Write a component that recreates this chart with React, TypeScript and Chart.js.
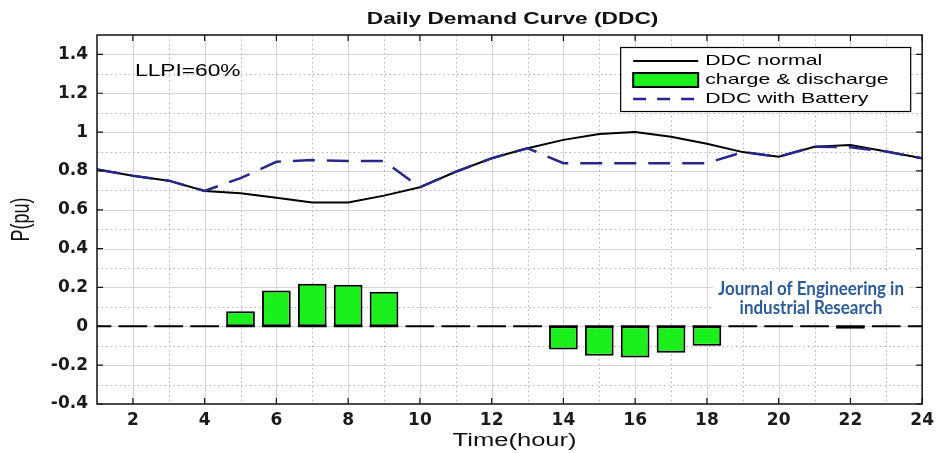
import React, { useEffect, useRef } from 'react';
import { Chart, registerables } from 'chart.js';

Chart.register(...registerables);

// ---- data ----
const hours = [1, 2, 3, 4, 5, 6, 7, 8, 9, 10, 11, 12, 13, 14, 15, 16, 17, 18, 19, 20, 21, 22, 23, 24];
const ddcNormal = [0.808, 0.775, 0.75, 0.697, 0.685, 0.662, 0.637, 0.637, 0.673, 0.716, 0.796, 0.865, 0.917, 0.96, 0.99, 1.0, 0.976, 0.94, 0.897, 0.873, 0.925, 0.934, 0.9, 0.865];
const chargeDischarge = [0, 0, 0, 0, 0.078, 0.185, 0.219, 0.214, 0.178, 0, 0, 0, 0, -0.12, -0.151, -0.16, -0.136, -0.1, 0, 0, 0, -0.012, 0, 0];
const ddcBattery = [0.808, 0.775, 0.75, 0.697, 0.763, 0.847, 0.856, 0.851, 0.851, 0.716, 0.796, 0.865, 0.917, 0.84, 0.839, 0.84, 0.84, 0.84, 0.897, 0.873, 0.925, 0.922, 0.9, 0.865];
const xTickValues = [2, 4, 6, 8, 10, 12, 14, 16, 18, 20, 22, 24];
const yTickValues = [-0.4, -0.2, 0, 0.2, 0.4, 0.6, 0.8, 1, 1.2, 1.4];
const yTickLabels = ['-0.4', '-0.2', '0', '0.2', '0.4', '0.6', '0.8', '1', '1.2', '1.4'];
const seriesLabels = ['DDC normal', 'charge & discharge', 'DDC with Battery'];
const titleText = 'Daily Demand Curve (DDC)';
const xTitle = 'Time(hour)';
const yTitle = 'P(pu)';
const noteText = 'LLPI=60%';
const watermark = ['Journal of Engineering in', 'industrial Research'];

const GREEN = '#1cf01c';
const NAVY = '#27278a';
const SX = 1.42; // horizontal stretch of the reference's text

function stretchedText(ctx: CanvasRenderingContext2D, text: string, x: number, y: number, font: string, align: CanvasTextAlign, color: string, sx = SX, rotate = 0) {
  ctx.save();
  ctx.font = font;
  ctx.fillStyle = color;
  ctx.textAlign = align;
  ctx.textBaseline = 'middle';
  ctx.translate(x, y);
  ctx.scale(sx, 1);
  if (rotate) ctx.rotate(rotate);
  ctx.fillText(text, 0, 0);
  ctx.restore();
}

const decorPlugin = {
  id: 'decor',
  beforeDatasetsDraw(chart: any) {
    const { ctx, chartArea: a, scales } = chart;
    const xs = scales.x, ys = scales.y;
    ctx.save();
    // vertical grid
    for (let h = Math.ceil(xs.min); h <= xs.max; h++) {
      const px = Math.round(xs.getPixelForValue(h)) + 0.5;
      if (px <= a.left + 1 || px >= a.right - 1) continue;
      ctx.beginPath();
      if (h % 2 === 0) { ctx.setLineDash([]); ctx.strokeStyle = '#d4d4d4'; }
      else { ctx.setLineDash([1.5, 3]); ctx.strokeStyle = '#b4b4b4'; }
      ctx.lineWidth = 1;
      ctx.moveTo(px, a.top); ctx.lineTo(px, a.bottom); ctx.stroke();
    }
    // horizontal grid
    for (let k = Math.round(ys.min * 10); k <= Math.round(ys.max * 10); k++) {
      const py = Math.round(ys.getPixelForValue(k / 10)) + 0.5;
      if (py <= a.top + 1 || py >= a.bottom - 1) continue;
      ctx.beginPath();
      if (k % 2 === 0) { ctx.setLineDash([]); ctx.strokeStyle = '#d4d4d4'; }
      else { ctx.setLineDash([1.5, 3]); ctx.strokeStyle = '#b4b4b4'; }
      ctx.lineWidth = 1;
      ctx.moveTo(a.left, py); ctx.lineTo(a.right, py); ctx.stroke();
    }
    ctx.setLineDash([]);
    // watermark box and text
    const wx = xs.getPixelForValue(20.9);
    const wy = ys.getPixelForValue(0.14);
    ctx.fillStyle = '#ffffff';
    ctx.fillRect(wx - 98, wy - 27, 196, 50);
    ctx.font = 'bold 19px Lato';
    const w0 = ctx.measureText(watermark[0]).width;
    const s = 186 / w0;
    stretchedText(ctx, watermark[0], wx, wy - 10, 'bold 19px Lato', 'center', '#2c5b95', s);
    stretchedText(ctx, watermark[1], wx, wy + 9, 'bold 19px Lato', 'center', '#2c5b95', s);
    ctx.restore();
  },
  afterDatasetsDraw(chart: any) {
    const { ctx, chartArea: a, scales } = chart;
    const xs = scales.x, ys = scales.y;
    ctx.save();
    // zero baseline segments of the bar series
    const meta = chart.getDatasetMeta(1);
    ctx.strokeStyle = '#000';
    ctx.lineWidth = 2;
    ctx.beginPath();
    meta.data.forEach((el: any) => {
      const l = Math.max(a.left, el.x - el.width / 2);
      const r = Math.min(a.right, el.x + el.width / 2);
      ctx.moveTo(l, el.base); ctx.lineTo(r, el.base);
    });
    ctx.stroke();

    // axis box
    ctx.lineWidth = 1.5;
    ctx.strokeStyle = '#111';
    ctx.strokeRect(a.left, a.top, a.right - a.left, a.bottom - a.top);
    // inward tick marks
    ctx.lineWidth = 1.2;
    ctx.beginPath();
    xTickValues.forEach(v => {
      const px = xs.getPixelForValue(v);
      ctx.moveTo(px, a.bottom); ctx.lineTo(px, a.bottom - 6);
      ctx.moveTo(px, a.top); ctx.lineTo(px, a.top + 6);
    });
    yTickValues.forEach(v => {
      const py = ys.getPixelForValue(v);
      ctx.moveTo(a.left, py); ctx.lineTo(a.left + 6, py);
      ctx.moveTo(a.right, py); ctx.lineTo(a.right - 6, py);
    });
    ctx.stroke();

    // legend
    const lx = a.right - 302, ly = a.top + 12, lw = 290, lh = 64;
    ctx.fillStyle = '#fff';
    ctx.fillRect(lx, ly, lw, lh);
    ctx.lineWidth = 1.2;
    ctx.strokeStyle = '#000';
    ctx.strokeRect(lx + 0.5, ly + 0.5, lw, lh);
    const rows = [ly + 14, ly + 33, ly + 52];
    const s0 = lx + 13, s1 = lx + 78;
    ctx.lineWidth = 2;
    ctx.strokeStyle = '#000';
    ctx.beginPath(); ctx.moveTo(s0, rows[0]); ctx.lineTo(s1, rows[0]); ctx.stroke();
    ctx.fillStyle = GREEN;
    ctx.fillRect(s0, rows[1] - 7, s1 - s0, 14);
    ctx.strokeRect(s0, rows[1] - 7, s1 - s0, 14);
    ctx.strokeStyle = NAVY;
    ctx.lineWidth = 2.5;
    ctx.setLineDash([13, 11]);
    ctx.beginPath(); ctx.moveTo(s0, rows[2]); ctx.lineTo(s1 + 2, rows[2]); ctx.stroke();
    ctx.setLineDash([]);
    seriesLabels.forEach((t, i) => stretchedText(ctx, t, s1 + 7, rows[i], '15px "Liberation Sans"', 'left', '#000'));

    // note
    stretchedText(ctx, noteText, a.left + 38, ys.getPixelForValue(1.31), '16px "Liberation Sans"', 'left', '#000');
    ctx.restore();
  },
  afterDraw(chart: any) {
    const { ctx, chartArea: a } = chart;
    const cx = (a.left + a.right) / 2 + 3;
    stretchedText(ctx, titleText, cx, 20, 'bold 16px "Liberation Sans"', 'center', '#111');
    stretchedText(ctx, xTitle, cx + 2, 441, '18px "Liberation Sans"', 'center', '#111');
    stretchedText(ctx, yTitle, 22, (a.top + a.bottom) / 2, '18px "Liberation Sans"', 'center', '#111', SX, -Math.PI / 2);
  },
};

export default function App() {
  const ref = useRef<HTMLCanvasElement | null>(null);
  useEffect(() => {
    const canvas = ref.current!;
    const chart = new Chart(canvas, {
      type: 'bar',
      data: {
        labels: hours,
        datasets: [
          { type: 'line', label: seriesLabels[0], data: ddcNormal, borderColor: '#000', borderWidth: 2, pointRadius: 0, tension: 0, fill: false, order: 2 } as any,
          { type: 'bar', label: seriesLabels[1], data: chargeDischarge, backgroundColor: GREEN, borderColor: '#000', borderWidth: 2, borderSkipped: false, categoryPercentage: 0.8, barPercentage: 1, order: 3 } as any,
          { type: 'line', label: seriesLabels[2], data: ddcBattery, borderColor: NAVY, borderWidth: 2.5, borderDash: [22, 12], pointRadius: 0, tension: 0, fill: false, order: 1 } as any,
        ],
      },
      options: {
        responsive: false,
        animation: false,
        layout: { padding: { top: 35, right: 15, left: 0, bottom: 0 } },
        plugins: { legend: { display: false }, title: { display: false }, tooltip: { enabled: false } },
        scales: {
          x: {
            type: 'linear',
            min: 1,
            max: 24,
            offset: false,
            grid: { display: false, drawTicks: false },
            border: { display: false },
            afterBuildTicks: (s: any) => { s.ticks = xTickValues.map(v => ({ value: v })); },
            afterFit: (s: any) => { s.height = 49; },
            ticks: { autoSkip: false, maxRotation: 0, padding: 6, color: '#1a1a1a', font: { family: 'DejaVu Sans', size: 17, weight: 'bold' } },
          },
          y: {
            type: 'linear',
            min: -0.4,
            max: 1.5,
            grid: { display: false, drawTicks: false },
            border: { display: false },
            afterBuildTicks: (s: any) => { s.ticks = yTickValues.map(v => ({ value: v })); },
            afterFit: (s: any) => { s.width = 97; },
            ticks: {
              padding: 9,
              color: '#1a1a1a',
              font: { family: 'DejaVu Sans', size: 17, weight: 'bold' },
              callback: (v: any) => {
                const i = yTickValues.findIndex(t => Math.abs(t - Number(v)) < 1e-6);
                return i >= 0 ? yTickLabels[i] : '';
              },
            },
          },
        },
      } as any,
      plugins: [decorPlugin],
    });
    return () => chart.destroy();
  }, []);
  return (
    <div style={{ position: 'absolute', left: 0, top: 0, width: 940, height: 453, background: '#fff' }}>
      <canvas ref={ref} width={940} height={453} style={{ display: 'block', width: 940, height: 453 }} />
    </div>
  );
}
